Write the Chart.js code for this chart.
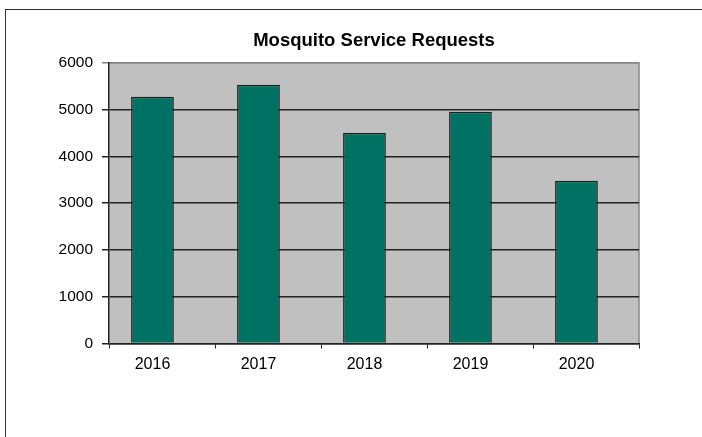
<!DOCTYPE html>
<html>
<head>
<meta charset="utf-8">
<script src="https://cdn.jsdelivr.net/npm/chart.js@4"></script>
<style>
  body { margin: 0; background: #fff; }
  #wrap { position: relative; width: 702px; height: 437px; overflow: hidden; }
  #frame { position: absolute; left: 5px; top: 9px; width: 800px; height: 500px;
           border-left: 1px solid #333; border-top: 1px solid #333; pointer-events: none; }
</style>
</head>
<body>
<div id="wrap">
  <canvas id="myChart" width="702" height="437"></canvas>
  <div id="frame"></div>
</div>
<script>
var years = ["2016", "2017", "2018", "2019", "2020"];
var requests = [5270, 5530, 4500, 4950, 3480];
var yTicks = [0, 1000, 2000, 3000, 4000, 5000, 6000];

var font = "'Liberation Sans', Arial, sans-serif";

// grey plot background with a soft border on top and right
var plotBackground = {
    id: 'plotBackground',
    beforeDraw: function(chart) {
        var a = chart.chartArea;
        var c = chart.ctx;
        c.save();
        c.fillStyle = '#c0c0c0';
        c.fillRect(a.left, a.top, a.right - a.left, a.bottom - a.top);
        c.strokeStyle = '#858585';
        c.lineWidth = 1.5;
        c.beginPath();
        c.moveTo(a.left, a.top);
        c.lineTo(a.right, a.top);
        c.lineTo(a.right, a.bottom);
        c.stroke();
        c.restore();
    }
};

var ctx = document.getElementById('myChart');

const myChart = new Chart(ctx, {
    type: "bar",
    data: {
        labels: years,
        datasets: [
            {
                label: "Requests",
                data: requests,
                backgroundColor: 'rgb(0, 114, 100)',
                borderColor: '#1e1e1e',
                borderWidth: 1.5,
                categoryPercentage: 0.36,
                barPercentage: 2.24
            },
            {
                // empty second series keeps the bars left of centre
                label: "",
                data: [],
                categoryPercentage: 0.36,
                barPercentage: 2.24
            }
        ]
    },
    plugins: [plotBackground],
    options: {
        responsive: false,
        animation: false,
        layout: {
            padding: { top: 29.4, right: 63, bottom: 57.3, left: 50 }
        },
        plugins: {
            legend: { display: false },
            tooltip: { enabled: false },
            title: {
                display: true,
                fullSize: false,
                text: "Mosquito Service Requests",
                color: '#000',
                font: { family: font, size: 18.5, weight: 'bold' },
                padding: { top: 0, bottom: 11.1 }
            }
        },
        scales: {
            x: {
                grid: {
                    offset: true,
                    drawOnChartArea: false,
                    drawTicks: true,
                    tickLength: 5,
                    color: '#222',
                    lineWidth: 1
                },
                border: { color: '#222', width: 1.5 },
                ticks: {
                    color: '#000',
                    font: { family: font, size: 16 },
                    padding: 6,
                    labelOffset: -9.5,
                    maxRotation: 0
                }
            },
            y: {
                min: 0,
                max: 6000,
                afterBuildTicks: function(scale) {
                    scale.ticks = yTicks.map(function(v) { return { value: v }; });
                },
                afterFit: function(scale) {
                    scale.width = 59;
                },
                grid: {
                    color: function(c) {
                        return c.tick && c.tick.value === 6000 ? '#858585' : '#222';
                    },
                    lineWidth: 1.5,
                    tickLength: 7
                },
                border: { color: '#222', width: 1.5 },
                ticks: {
                    color: '#000',
                    font: { family: font, size: 15.5 },
                    padding: 9,
                    callback: function(v) { return String(v); }
                }
            }
        }
    }
});
</script>
</body>
</html>
